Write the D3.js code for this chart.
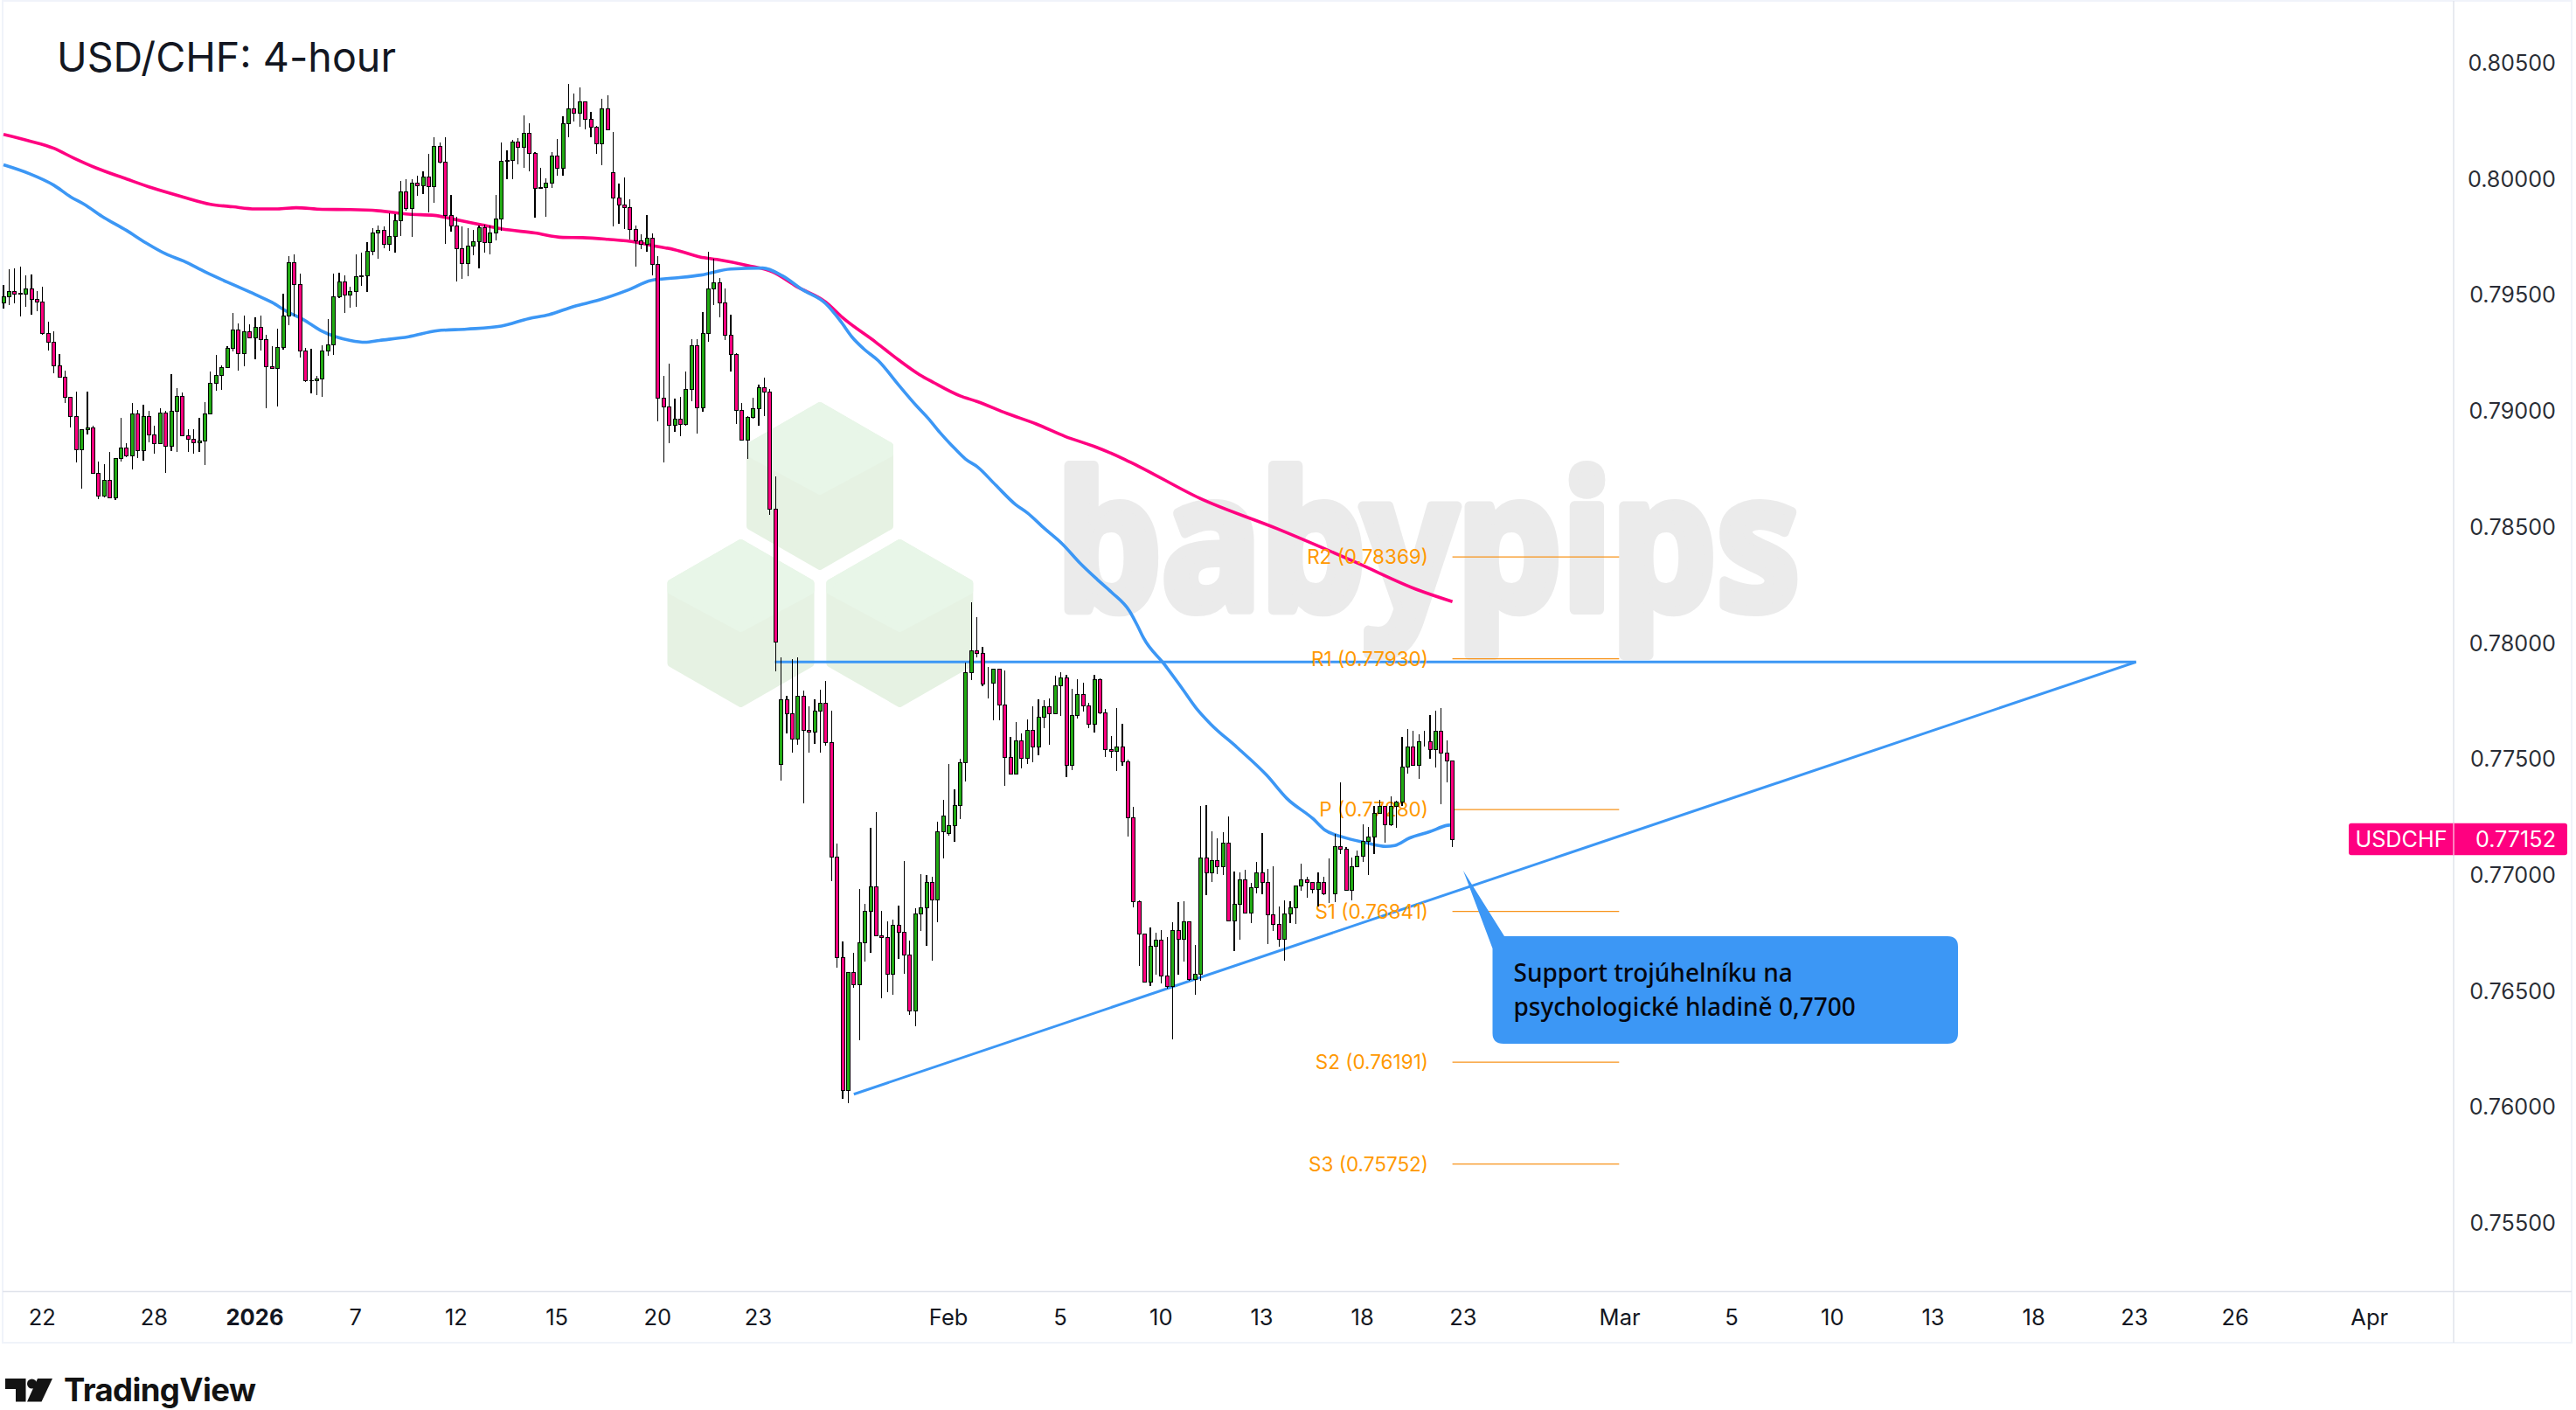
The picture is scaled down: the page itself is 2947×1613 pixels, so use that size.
<!DOCTYPE html>
<html><head><meta charset="utf-8">
<script src="https://cdn.jsdelivr.net/npm/d3@7"></script>
<style>html,body{margin:0;padding:0;background:#fff}svg{display:block}</style>
</head><body><div id="chart"></div>
<script>
// All candle values are prices x 100000.
const barOpen = [
79464,79491,79512,79504,79501,79524,79479,79468,79332,79294,
79193,79143,79057,78974,78831,78917,78925,78729,78632,78699,
78625,78794,78837,78804,78986,78827,78974,78895,78858,78989,
78846,78995,79061,78892,78876,78861,78869,78986,79118,79152,
79185,79269,79347,79246,79340,79313,79359,79306,79189,79181,
79271,79407,79637,79543,79257,79130,79129,79137,79257,79283,
79491,79554,79499,79514,79577,79581,79687,79765,79777,79717,
79749,79818,79943,79871,79980,79968,80006,79966,80139,80071,
79841,79796,79698,79633,79709,79728,79788,79725,79765,79826,
80075,80079,80157,80135,80194,80108,79962,79962,79980,80098,
80045,80236,80301,80282,80330,80255,80221,80150,80301,80025,
79916,79886,79874,79780,79730,79717,79742,79629,79053,79016,
78936,78963,78940,79091,79279,79012,79332,79524,79551,79464,
79325,79242,79001,78873,78970,79008,79099,79080,78575,77475,
77754,77693,77584,77769,77622,77614,77705,77739,77569,77075,
76642,76069,76578,76525,76706,76842,76947,76736,76728,76570,
76781,76751,76653,76412,76830,76857,76966,76891,77184,77177,
77211,77297,77483,77871,77965,77954,77825,77825,77886,77731,
77505,77434,77577,77501,77622,77550,77679,77724,77694,77814,
77848,77471,77686,77777,77728,77648,77841,77697,77539,77532,
77550,77486,77245,76883,76744,76536,76691,76717,76563,76517,
76759,76721,76796,76548,76571,77072,77008,77060,77034,77136,
76800,76872,76978,76834,76944,77008,76966,76827,76786,76721,
76831,76857,76951,76978,76966,76936,76966,76917,76917,77121,
77110,76932,77034,77079,77143,77162,77264,77294,77215,77294,
77312,77464,77550,77471,77573,77573,77539,77618,77524,77490];
const barClose = [
79489,79512,79501,79503,79524,79480,79468,79331,79294,79193,
79143,79057,78974,78831,78917,78925,78729,78632,78699,78625,
78794,78837,78804,78986,78827,78974,78896,78858,78989,78846,
78995,79061,78892,78876,78861,78869,78986,79118,79152,79185,
79269,79347,79246,79340,79312,79359,79306,79189,79180,79271,
79407,79637,79543,79257,79130,79129,79137,79257,79283,79491,
79554,79499,79514,79577,79581,79686,79765,79777,79717,79749,
79818,79943,79871,79980,79968,80006,79966,80139,80069,79841,
79796,79698,79633,79709,79728,79788,79725,79765,79826,80075,
80079,80157,80135,80194,80108,79958,79958,79980,80098,80045,
80236,80301,80282,80330,80255,80221,80150,80301,80211,79916,
79886,79876,79780,79732,79717,79742,79629,79053,79016,78936,
78963,78940,79091,79279,79012,79332,79524,79551,79464,79325,
79242,79001,78873,78970,79008,79099,79080,78576,78002,77754,
77693,77584,77769,77622,77614,77705,77739,77569,77075,76642,
76069,76578,76525,76706,76842,76947,76736,76728,76570,76781,
76751,76653,76412,76830,76857,76966,76891,77184,77252,77211,
77297,77482,77871,77965,77952,77822,77825,77886,77731,77505,
77434,77577,77501,77622,77550,77679,77724,77694,77814,77848,
77471,77686,77777,77728,77648,77841,77697,77539,77532,77550,
77486,77245,76883,76744,76536,76691,76717,76563,76517,76759,
76721,76796,76548,76570,77072,77008,77060,77034,77136,76800,
76872,76978,76834,76944,77008,76966,76827,76786,76721,76831,
76857,76951,76978,76966,76936,76966,76917,76917,77121,77110,
76932,77034,77079,77143,77162,77264,77294,77215,77294,77312,
77464,77550,77471,77573,77573,77539,77618,77524,77490,77151];
const barHigh = [
79540,79608,79612,79619,79582,79586,79516,79534,79383,79341,
79243,79170,79057,79080,78917,79080,78934,78780,78767,78821,
78794,78969,78858,79032,79001,79025,78998,78934,79009,78998,
79157,79095,79076,78919,78919,78969,79036,79168,79240,79193,
79277,79419,79375,79409,79372,79402,79409,79325,79278,79352,
79503,79666,79672,79590,79271,79265,79149,79281,79396,79590,
79593,79582,79534,79672,79680,79725,79785,79797,79792,79850,
79846,79989,79997,79997,80011,80032,80106,80176,80155,80176,
79929,79834,79793,79785,79780,79799,79802,79796,79929,80155,
80120,80166,80173,80271,80240,80112,80045,79999,80112,80170,
80267,80407,80365,80392,80330,80287,80225,80345,80359,80200,
79978,80006,79911,79797,79760,79842,79762,79666,79149,79201,
79051,79059,79168,79308,79308,79423,79684,79653,79571,79526,
79413,79246,79032,78975,79055,79111,79141,79092,78716,77936,
77772,77928,77936,77791,77725,77754,77796,77836,77706,77132,
76711,76578,76662,76937,76872,77201,77269,76843,76798,76805,
76865,77058,76715,76854,77001,76997,76990,77227,77321,77476,
77367,77497,77913,78173,78109,77980,77893,77886,77886,77880,
77593,77657,77608,77667,77725,77755,77751,77759,77857,77872,
77859,77800,77842,77827,77739,77861,77846,77714,77597,77717,
77650,77495,77290,76888,76744,76771,76749,76760,76730,76794,
76880,76884,76796,76696,77297,77299,77186,77156,77181,77249,
77014,77008,77019,76964,77054,77177,77023,77034,76862,76887,
76883,76951,77047,76989,76966,77008,76989,77068,77173,77397,
77117,77073,77102,77215,77205,77294,77322,77294,77337,77318,
77592,77627,77619,77603,77618,77686,77705,77717,77578,77490];
const barLow = [
79440,79456,79462,79406,79446,79413,79429,79328,79258,79161,
79143,79033,78928,78777,78664,78897,78728,78619,78624,78624,
78613,78780,78800,78747,78794,78784,78864,78815,78858,78732,
78827,78820,78892,78820,78815,78820,78763,78986,79086,79090,
79185,79255,79173,79192,79312,79222,79258,79009,79180,79016,
79261,79368,79406,79227,79123,79073,79067,79060,79236,79240,
79484,79422,79444,79448,79538,79512,79671,79655,79701,79688,
79682,79753,79863,79749,79924,79933,79855,79896,80065,79719,
79772,79557,79569,79580,79668,79613,79682,79674,79734,79776,
79998,79998,80061,80045,80032,79832,79954,79836,79958,80013,
80013,80176,80247,80224,80213,80176,80107,80059,80209,79795,
79806,79783,79738,79621,79697,79686,79584,78954,78777,78860,
78909,78890,78934,79041,78901,78995,79297,79456,79403,79302,
79169,78943,78873,78792,78966,78934,78975,78551,77877,77406,
77609,77526,77560,77308,77526,77564,77526,77556,76971,76599,
76034,76015,76512,76285,76624,76663,76735,76467,76494,76482,
76637,76573,76396,76347,76757,76693,76629,76795,77070,77168,
77142,77240,77402,77839,77937,77813,77759,77666,77666,77383,
77432,77432,77457,77478,77484,77514,77632,77560,77694,77685,
77421,77451,77674,77704,77632,77613,77692,77508,77503,77447,
77470,77164,76859,76605,76536,76520,76568,76530,76509,76290,
76568,76624,76543,76482,76543,76911,76966,77001,76999,76800,
76671,76720,76834,76792,76920,76916,76701,76758,76690,76630,
76789,76788,76929,76900,76920,76863,76911,76876,76882,77089,
76932,76888,77033,77054,76998,77089,77263,77137,77209,77202,
77294,77436,77470,77412,77550,77500,77462,77303,77398,77120];

const ma200Bars = [0,4.6,9,12.4,16.6,22,26.5,32,37,41,45,49,52.3,57,62,67,72.4,77,80,85.5,89,95,100,103.5,108,113,116,120,124.5,127.5,133,137.5,141.8,147,150,155.9,160,163.7,166.3,171,174,179.4,184.6,189.8,195,200,202.8,213.8,227.7,241.6,252.9,259];
const ma200 = [80190,80162,80130,80090,80045,79998,79960,79921,79889,79878,79869,79869,79874,79867,79866,79861,79846,79841,79827,79800,79783,79765,79746,79745,79738,79726,79711,79693,79662,79651,79625,79597,79534,79467,79400,79295,79218,79155,79120,79063,79039,78987,78942,78888,78845,78794,78761,78622,78490,78347,78226,78176];
const ma100Bars = [0,4.6,9,12,14.5,17.6,22,25.5,29,32.2,36,40.6,45,48,50.5,53.6,56.7,59.4,62,64.6,67.2,72.4,77.6,82.8,89,93.9,97.5,102,106.4,111.6,115.8,120,124.7,130,135.7,139.2,142.8,147,149.6,151.7,153.8,156.4,160,163.2,165.3,167.4,170,172,174.1,177.3,180.9,183,186.1,189.3,192.4,195.5,198.1,201.3,202.8,203.8,207.5,210.6,213.2,215.8,220.5,225.8,229.4,234.1,236.2,239.3,243.5,247.1,248.7,251.3,254.9,258.1,259.1];
const ma100 = [80059,80021,79971,79921,79888,79837,79776,79722,79675,79644,79598,79547,79500,79466,79429,79392,79345,79318,79302,79294,79302,79318,79344,79351,79364,79396,79413,79449,79476,79519,79561,79571,79584,79610,79614,79581,79521,79460,79386,79316,79265,79214,79110,79020,78966,78905,78837,78790,78757,78680,78595,78559,78491,78424,78343,78272,78216,78135,78068,78019,77906,77805,77717,77648,77548,77428,77328,77240,77192,77162,77137,77121,77125,77157,77184,77212,77215];

const trendBars = [[137.9,381.2],[152,381.2]];
const trendValues = [[77916,77916],[76053,77916]];

const pivotLabels = ["R2 (0.78369)","R1 (0.77930)","P (0.77280)","S1 (0.76841)","S2 (0.76191)","S3 (0.75752)"];
const pivotLevels = [78369,77930,77280,76841,76191,75752];
const pivotFromBar = 259;
const pivotToBar = 288.8;

const priceTicks = [0.805,0.80,0.795,0.79,0.785,0.78,0.775,0.77,0.765,0.76,0.755];
const timeTickBars = [7,27,45,63,81,99,117,135,169,189,207,225,243,261,289,309,327,345,363,381,399,423];
const timeTickLabels = ["22","28","2026","7","12","15","20","23","Feb","5","10","13","18","23","Mar","5","10","13","18","23","26","Apr"];
const lastPrice = 0.77152;
const symbol = "USDCHF";
const titleText = "USD/CHF: 4-hour";
const calloutLines = ["Support trojúhelníku na","psychologické hladině 0,7700"];

const W=2947,H=1613, FONT="Inter, 'Noto Sans', sans-serif";
const COL={up:"#22ab14",down:"#ff0080",blue:"#3c97f5",pink:"#ff0080",orange:"#f7931a",grid:"#e0e3eb",soft:"#f0f3fa",text:"#131722"};
const svg=d3.select("#chart").append("svg").attr("width",W).attr("height",H).attr("viewBox",`0 0 ${W} ${H}`).style("background","#fff");

const x=d3.scaleLinear().domain([0,259]).range([4,1661.6]);
const y=d3.scaleLinear().domain([0.805,0.755]).range([71.5,1398.5]);
const yp=v=>y(v/1e5);

// frame
const frame=svg.append("g").attr("class","frame");
frame.append("rect").attr("x",3).attr("y",1).attr("width",2939).attr("height",1535).attr("fill","none").attr("stroke",COL.soft).attr("stroke-width",2);
frame.append("line").attr("x1",3).attr("x2",2942).attr("y1",1477.5).attr("y2",1477.5).attr("stroke",COL.grid).attr("stroke-width",1.5);
frame.append("line").attr("x1",2807).attr("x2",2807).attr("y1",1).attr("y2",1536).attr("stroke",COL.grid).attr("stroke-width",1.5);

// watermark
const wm=svg.append("g").attr("class","watermark");
function cube(cx,top){
  const r=80, h=[top,top+46,top+138,top+184];
  wm.append("polygon").attr("points",[[cx,h[0]],[cx+r,h[1]],[cx+r,h[2]],[cx,h[3]],[cx-r,h[2]],[cx-r,h[1]]].join(" "))
    .attr("fill","#e6f2e3").attr("stroke","#e6f2e3").attr("stroke-width",8).attr("stroke-linejoin","round");
  wm.append("polygon").attr("points",[[cx,h[0]],[cx+r,h[1]],[cx+r,top+55],[cx,top+98],[cx-r,top+55],[cx-r,h[1]]].join(" "))
    .attr("fill","#e8f6e8").attr("stroke","#e8f6e8").attr("stroke-width",8).attr("stroke-linejoin","round");
}
cube(938,464); cube(847.5,621); cube(1029.3,621);
wm.append("text").attr("x",1209).attr("y",697).attr("font-family","'Noto Sans',sans-serif").attr("font-weight",700).attr("font-size",215)
  .attr("fill","#ebebeb").attr("stroke","#ebebeb").attr("stroke-width",12).attr("stroke-linejoin","round")
  .attr("textLength",850).attr("lengthAdjust","spacingAndGlyphs").text("babypips");

// moving averages
const maLine=d3.line().x(d=>x(d[0])).y(d=>yp(d[1])).curve(d3.curveMonotoneX);
const lines=svg.append("g").attr("class","lines").attr("fill","none").attr("stroke-linejoin","round");
lines.append("path").attr("d",maLine(d3.zip(ma200Bars,ma200))).attr("stroke",COL.pink).attr("stroke-width",3.6);
lines.append("path").attr("d",maLine(d3.zip(ma100Bars,ma100))).attr("stroke",COL.blue).attr("stroke-width",3.6);

// pivots
const piv=svg.append("g").attr("class","pivots");
piv.selectAll("line").data(pivotLevels).join("line").attr("x1",x(pivotFromBar)).attr("x2",x(pivotToBar))
  .attr("y1",d=>yp(d)).attr("y2",d=>yp(d)).attr("stroke",COL.orange).attr("stroke-width",1.2);

// trend lines
lines.selectAll("line.tr").data(d3.zip(trendBars,trendValues)).join("line").attr("class","tr")
  .attr("x1",d=>x(d[0][0])).attr("x2",d=>x(d[0][1])).attr("y1",d=>yp(d[1][0])).attr("y2",d=>yp(d[1][1]))
  .attr("stroke",COL.blue).attr("stroke-width",3);

piv.selectAll("text").data(pivotLabels).join("text").attr("x",1634).attr("y",(d,i)=>yp(pivotLevels[i])+8)
  .attr("text-anchor","end").attr("font-family",FONT).attr("font-size",22.5).attr("fill","#ff9800").text(d=>d);

// candles
const bars=d3.range(barOpen.length);
const cg=svg.append("g").attr("class","candles").attr("shape-rendering","crispEdges");
cg.selectAll("line").data(bars).join("line").attr("x1",i=>x(i)).attr("x2",i=>x(i))
  .attr("y1",i=>yp(barHigh[i])).attr("y2",i=>yp(barLow[i])).attr("stroke","#000").attr("stroke-width",1.2);
cg.selectAll("rect").data(bars).join("rect").attr("x",i=>x(i)-2).attr("width",4)
  .attr("y",i=>yp(Math.max(barOpen[i],barClose[i])))
  .attr("height",i=>Math.abs(yp(barOpen[i])-yp(barClose[i])))
  .attr("fill",i=>barClose[i]>=barOpen[i]?COL.up:COL.down).attr("stroke","#000").attr("stroke-width",1);

// callout
const co=svg.append("g").attr("class","callout");
co.append("path").attr("d","M1674,996 L1721,1071 L2228,1071 Q2240,1071 2240,1083 L2240,1182 Q2240,1194 2228,1194 L1720,1194 Q1707.5,1194 1707.5,1182 L1707.5,1085 Z").attr("fill",COL.blue);
co.selectAll("text").data(calloutLines).join("text").attr("x",1731.5).attr("y",(d,i)=>1122.5+39*i)
  .attr("font-family","'Noto Sans',sans-serif").attr("font-weight",500).attr("font-size",28).attr("fill","#05070f").text(d=>d);

// axes
const yAxis=d3.axisRight(y).tickValues(priceTicks).tickSize(0).tickPadding(0).tickFormat(d3.format(".5f"));
const ya=svg.append("g").attr("transform","translate(2924,1)").call(yAxis);
ya.select(".domain").remove();
ya.selectAll("text").attr("text-anchor","end").attr("font-family",FONT).attr("font-size",25.2).attr("fill",COL.text).attr("fill-opacity",.92);

const xAxis=d3.axisBottom(x).tickValues(timeTickBars).tickSize(0).tickPadding(0).tickFormat((d,i)=>timeTickLabels[i]);
const xa=svg.append("g").attr("transform","translate(-1,1497)").call(xAxis);
xa.select(".domain").remove();
xa.selectAll("text").attr("dy",null).attr("y",19).attr("font-family",FONT).attr("font-size",25.5).attr("fill",COL.text)
  .attr("font-weight",d=>d===45?700:400);

// last price tag
const tag=svg.append("g").attr("class","tag");
tag.append("rect").attr("x",2687).attr("y",y(lastPrice)-18.3).attr("width",250).attr("height",36.6).attr("rx",3).attr("fill",COL.pink);
tag.append("line").attr("x1",2807).attr("x2",2807).attr("y1",y(lastPrice)-18.3).attr("y2",y(lastPrice)+18.3).attr("stroke","#fff").attr("stroke-width",1);
tag.append("text").attr("x",2747).attr("y",y(lastPrice)+9).attr("text-anchor","middle").attr("font-family",FONT).attr("font-size",25.2).attr("fill","#fff").text(symbol);
tag.append("text").attr("x",2924).attr("y",y(lastPrice)+9).attr("text-anchor","end").attr("font-family",FONT).attr("font-size",25.2).attr("fill","#fff").text(d3.format(".5f")(lastPrice));

// title
svg.append("text").attr("x",65).attr("y",81.5).attr("font-family",FONT).attr("font-size",46.6).attr("fill","#131722").text(titleText);

// logo
const logo=svg.append("g").attr("class","logo").attr("fill","#131313");
logo.append("path").attr("d","M6,1577 H29.5 V1603.5 H18 V1589 H6 Z");
logo.append("circle").attr("cx",36.5).attr("cy",1583).attr("r",5.5);
logo.append("path").attr("d","M43,1577 H60 L47.5,1603.5 H31 Z");
logo.append("text").attr("x",73).attr("y",1603).attr("font-family",FONT).attr("font-weight",700).attr("font-size",36.5).attr("letter-spacing",-0.6).text("TradingView");
</script></body></html>
